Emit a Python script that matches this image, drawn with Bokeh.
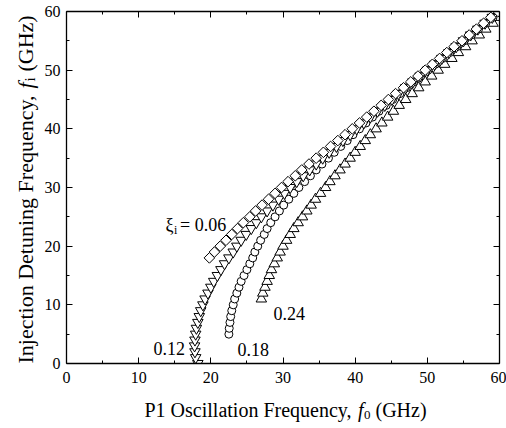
import math
from bokeh.plotting import figure
from bokeh.models import (Range1d, FixedTicker, LinearAxis, Label,
                          CustomJSTickFormatter, BoxAnnotation)
from bokeh.embed import file_html
from bokeh.resources import INLINE

# ---------------- data (f0 = P1 oscillation frequency, fi = detuning) -------------
fi_006 = list(range(18, 61))
f0_006 = [19.8, 20.5, 21.3, 22.1, 22.9, 23.7, 24.5, 25.4, 26.2, 27.1,
          28.0, 28.9, 29.8, 30.7, 31.7, 32.6, 33.6, 34.6, 35.6, 36.6,
          37.6, 38.6, 39.6, 40.6, 41.6, 42.6, 43.6, 44.6, 45.6, 46.7,
          47.7, 48.7, 49.7, 50.7, 51.7, 52.7, 53.7, 54.8, 55.8, 56.8,
          57.8, 58.8, 59.8]

fi_012 = list(range(0, 61))
f0_012 = [18.2, 17.9, 17.8, 17.75, 17.8, 17.9, 18.0, 18.2, 18.4, 18.6,
          18.9, 19.2, 19.6, 20.0, 20.4, 20.9, 21.4, 21.9, 22.5, 23.1,
          23.6, 24.2, 24.9, 25.6, 26.3, 27.0, 27.8, 28.6, 29.4, 30.2,
          31.0, 31.9, 32.8, 33.7, 34.6, 35.5, 36.4, 37.4, 38.3, 39.3,
          40.2, 41.2, 42.1, 43.1, 44.1, 45.1, 46.0, 47.0, 48.0, 49.0,
          50.0, 51.0, 52.0, 53.0, 54.0, 55.0, 56.0, 57.0, 58.0, 59.0,
          60.0]

fi_018 = list(range(5, 60))
f0_018 = [22.5, 22.55, 22.65, 22.75, 22.9, 23.1, 23.3, 23.6, 23.9, 24.2,
          24.6, 25.0, 25.4, 25.8, 26.1, 26.5, 26.9, 27.4, 27.8, 28.3,
          28.9, 29.5, 30.1, 30.8, 31.5, 32.2, 33.0, 33.8, 34.6, 35.4,
          36.3, 37.1, 38.0, 38.9, 39.7, 40.6, 41.5, 42.4, 43.3, 44.3,
          45.2, 46.2, 47.1, 48.1, 49.1, 50.1, 51.1, 52.1, 53.1, 54.1,
          55.1, 56.1, 57.1, 58.1, 59.1]

fi_024 = list(range(11, 60))
f0_024 = [27.0, 27.2, 27.5, 27.8, 28.1, 28.4, 28.8, 29.2, 29.6, 30.0,
          30.5, 31.0, 31.5, 32.1, 32.7, 33.3, 33.9, 34.5, 35.2, 35.9,
          36.5, 37.2, 37.9, 38.6, 39.3, 40.0, 40.7, 41.4, 42.1, 42.9,
          43.7, 44.5, 45.3, 46.1, 47.0, 47.9, 48.8, 49.7, 50.6, 51.5,
          52.4, 53.4, 54.3, 55.3, 56.2, 57.2, 58.1, 59.1, 60.0]

major_ticks = [0, 10, 20, 30, 40, 50, 60]
minor_ticks = [5, 15, 25, 35, 45, 55]
series_labels = ["0.06", "0.12", "0.18", "0.24"]

# ---------------- geometry ----------------------------------------------------------
W, H = 506, 428
L, R, T, B = 66, 7, 11, 65          # pixel margins around the 0..60 box
FONT = "Liberation Serif"
sx = (W - L - R) / 60.0
sy = (H - T - B) / 60.0

p = figure(width=W, height=H, output_backend="svg", toolbar_location=None,
           x_range=Range1d(-L / sx, 60 + R / sx),
           y_range=Range1d(-B / sy, 60 + T / sy),
           min_border=0, x_axis_location=None, y_axis_location=None)
p.grid.visible = False
p.outline_line_color = None
p.background_fill_color = "white"
p.border_fill_color = "white"

# ---------------- series -------------------------------------------------------------
style = dict(line_color="black", fill_color="white", line_width=1)
p.scatter(f0_024, fi_024, marker="triangle", size=10.5, **style)
p.scatter(f0_018, fi_018, marker="circle", size=8, **style)
p.scatter(f0_012, fi_012, marker="inverted_triangle", size=10.5, **style)
p.scatter(f0_006, fi_006, marker="square", size=7.5, angle=math.pi / 4, **style)

# clip marks to the 0..60 box
for kw in (dict(left=60), dict(bottom=60), dict(top=0), dict(right=0)):
    p.add_layout(BoxAnnotation(fill_color="white", fill_alpha=1.0,
                               line_color=None, **kw))

# ---------------- axes ---------------------------------------------------------------
def make_axis(loc, show_labels):
    ax = LinearAxis(ticker=FixedTicker(ticks=major_ticks, minor_ticks=minor_ticks),
                    fixed_location=loc, bounds=(0, 60), level="overlay")
    ax.axis_line_color = "black"
    ax.axis_line_width = 1.3
    ax.major_tick_in = 6
    ax.major_tick_out = 0
    ax.minor_tick_in = 3
    ax.minor_tick_out = 0
    ax.major_tick_line_color = "black"
    ax.minor_tick_line_color = "black"
    ax.major_label_text_font = FONT
    ax.major_label_text_font_size = "16px"
    ax.major_label_text_color = "black"
    if not show_labels:
        ax.formatter = CustomJSTickFormatter(code="return ''")
        ax.major_label_standoff = 0
    return ax

bottom = make_axis(0, True); bottom.major_label_standoff = 8
left = make_axis(0, True); left.major_label_standoff = 6
top = make_axis(60, False)
right = make_axis(60, False)
p.add_layout(bottom, "below")
p.add_layout(left, "left")
p.add_layout(top, "above")
p.add_layout(right, "right")

# ---------------- text ---------------------------------------------------------------
def dx(px):
    return (px - L) / sx
def dy(py):
    return (H - B - py) / sy

def lab(text, px, py, size, italic=False, angle=0.0):
    p.add_layout(Label(x=dx(px), y=dy(py), text=text, text_font=FONT,
                       text_font_size=f"{size}px", text_color="black",
                       text_font_style="italic" if italic else "normal",
                       text_align="left", text_baseline="alphabetic",
                       angle=angle, level="overlay"))

# x axis label
lab("P1 Oscillation Frequency,", 144, 409, 20)
lab("f", 357.5, 409, 20, italic=True)
lab("0", 363.5, 414, 13)
lab("(GHz)", 375, 409, 20)

# y axis label (rotated)
a = math.pi / 2
lab("Injection Detuning Frequency,", 25, 363, 22, angle=a)
lab("f", 25, 88, 22, italic=True, angle=a)
lab("i", 29, 81, 15, angle=a)
lab("(GHz)", 25, 71, 22, angle=a)

# series annotations
lab("\u03be", 165, 224, 18)
lab("i", 173.5, 229, 12)
lab("= " + series_labels[0], 179.5, 224, 18)
lab(series_labels[1], 153, 348, 18)
lab(series_labels[2], 237, 349, 18)
lab(series_labels[3], 273, 313, 18)

open("out.html", "w").write(file_html(p, INLINE))
